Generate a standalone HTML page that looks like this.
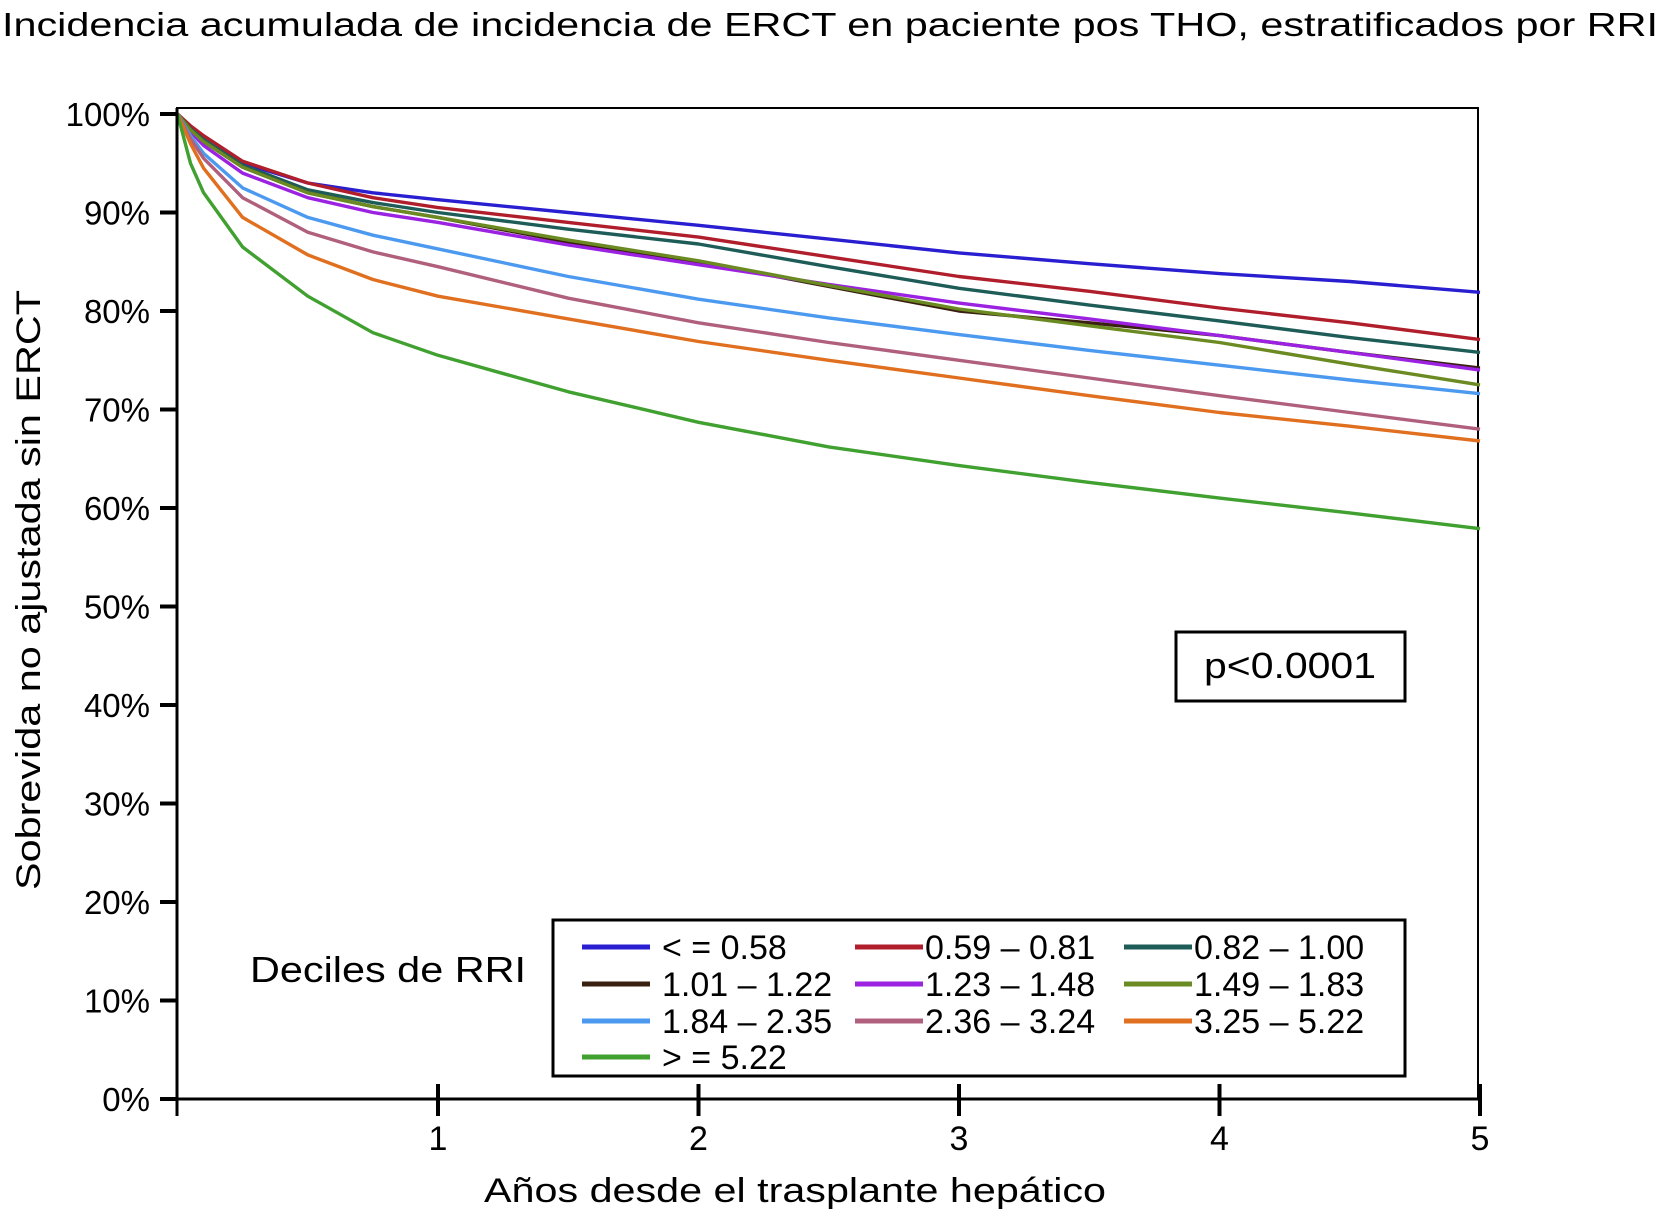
<!DOCTYPE html>
<html><head><meta charset="utf-8"><style>
html,body{margin:0;padding:0;background:#fff;}
svg{display:block;font-family:"Liberation Sans",sans-serif;}
</style></head><body>
<svg id="chart" width="1666" height="1216" viewBox="0 0 1666 1216" xmlns="http://www.w3.org/2000/svg">
<text x="2" y="36" font-size="33" textLength="1656" lengthAdjust="spacingAndGlyphs">Incidencia acumulada de incidencia de ERCT en paciente pos THO, estratificados por RRI</text>
<rect x="177" y="108" width="1301" height="991" fill="none" stroke="#000" stroke-width="2"/>
<g id="curves"></g>
<g id="axes"></g>
<text x="40" y="590" font-size="34" text-anchor="middle" transform="rotate(-90 40 590)" textLength="600" lengthAdjust="spacingAndGlyphs">Sobrevida no ajustada sin ERCT</text>
<text x="795" y="1202" font-size="34" text-anchor="middle" textLength="622" lengthAdjust="spacingAndGlyphs">Años desde el trasplante hepático</text>
<rect x="1176" y="632" width="229" height="69" fill="#fff" stroke="#000" stroke-width="3"/>
<text x="1290" y="678" font-size="36" text-anchor="middle" textLength="172" lengthAdjust="spacingAndGlyphs">p&lt;0.0001</text>
<text x="250" y="982" font-size="36" textLength="276" lengthAdjust="spacingAndGlyphs">Deciles de RRI</text>
<rect x="553" y="920" width="852" height="156" fill="#fff" stroke="#000" stroke-width="3"/>
<g id="legend"></g>
</svg>
<script>
const times=[0,0.05,0.1,0.25,0.5,0.75,1,1.5,2,2.5,3,3.5,4,4.5,5];
const labels=["< = 0.58","0.59 – 0.81","0.82 – 1.00","1.01 – 1.22","1.23 – 1.48","1.49 – 1.83","1.84 – 2.35","2.36 – 3.24","3.25 – 5.22","> = 5.22"];
const colors=["#2a1fd0","#b01e2c","#1e5c58","#3a2010","#9a22e0","#6b8a22","#4c9af0","#b0607c","#e07020","#40a030"];
const s0=[100,98.5,97.3,95,93,92,91.3,90,88.7,87.3,85.9,84.8,83.8,83,81.9];
const s1=[100,98.8,97.8,95.2,93,91.5,90.5,89,87.5,85.5,83.5,82,80.3,78.8,77.1];
const s2=[100,98.5,97.4,94.8,92.3,91,90,88.3,86.8,84.5,82.3,80.6,79,77.3,75.8];
const s3=[100,98.4,97.2,94.6,92,90.6,89.5,87,85,82.5,80,78.8,77.5,75.8,74.2];
const s4=[100,98.2,96.8,94,91.5,90,89,86.7,84.7,82.7,80.8,79.2,77.5,75.8,74];
const s5=[100,98.4,97.2,94.6,92,90.6,89.5,87.2,85.1,82.6,80.2,78.5,76.8,74.6,72.5];
const s6=[100,97.8,96,92.5,89.5,87.7,86.3,83.5,81.2,79.3,77.6,76,74.5,73,71.6];
const s7=[100,97.5,95.5,91.5,88,86,84.5,81.3,78.8,76.8,75,73.2,71.4,69.7,68];
const s8=[100,97,94.5,89.5,85.7,83.2,81.5,79.2,76.9,75,73.2,71.4,69.7,68.3,66.8];
const s9=[100,95,92,86.5,81.5,77.8,75.5,71.8,68.7,66.2,64.3,62.6,61,59.5,57.9];
const series=[s0,s1,s2,s3,s4,s5,s6,s7,s8,s9];
const yTicks=[0,10,20,30,40,50,60,70,80,90,100];
const xTicks=[1,2,3,4,5];
const NS="http://www.w3.org/2000/svg";
const X=t=>177.5+t*260.5;
const Y=v=>1099-v*9.85;
function mk(tag,attrs,parent){const e=document.createElementNS(NS,tag);for(const k in attrs)e.setAttribute(k,attrs[k]);parent.appendChild(e);return e;}
const axes=document.getElementById('axes');
const ax=mk('line',{x1:177,y1:1099,x2:1481,y2:1099,stroke:'#000','stroke-width':3},axes);


const ay=mk('line',{x1:177,y1:108,x2:177,y2:1099,stroke:'#000','stroke-width':3},axes);


yTicks.forEach(v=>{
 const tk=mk('line',{x1:160,y1:Y(v),x2:177,y2:Y(v),stroke:'#000','stroke-width':4},axes);
 
 
 const t=mk('text',{x:150,y:Y(v)+12,'font-size':33,'text-anchor':'end'},axes);
 t.textContent=v+'%';
 
 
});
xTicks.forEach(v=>{
 const tk=mk('line',{x1:X(v),y1:1084,x2:X(v),y2:1116,stroke:'#000','stroke-width':4},axes);
 
 
 const t=mk('text',{x:X(v),y:1150,'font-size':34,'text-anchor':'middle'},axes);
 t.textContent=v;
 
 
});
const tk0=mk('line',{x1:177,y1:1099,x2:177,y2:1116,stroke:'#000','stroke-width':3},axes);


const cg=document.getElementById('curves');
series.forEach((s,i)=>{
 const d=s.map((v,j)=>(j?'L':'M')+X(times[j]).toFixed(1)+' '+Y(v).toFixed(1)).join(' ');
 const p=mk('path',{d:d,fill:'none',stroke:colors[i],'stroke-width':3.4,'stroke-linejoin':'round'},cg);
 
 
});
const lg=document.getElementById('legend');
const colX=[582,855,1124];
const rowY=[947,984,1021,1057];
labels.forEach((lab,i)=>{
 const c=i%3,r=Math.floor(i/3);
 const l=mk('line',{x1:colX[c],y1:rowY[r],x2:colX[c]+68,y2:rowY[r],stroke:colors[i],'stroke-width':5},lg);
 
 
 const t=mk('text',{x:colX[c]+(c==0?80:70),y:rowY[r]+12,'font-size':34},lg);
 t.textContent=lab;
 
 
});
</script>
</body></html>
